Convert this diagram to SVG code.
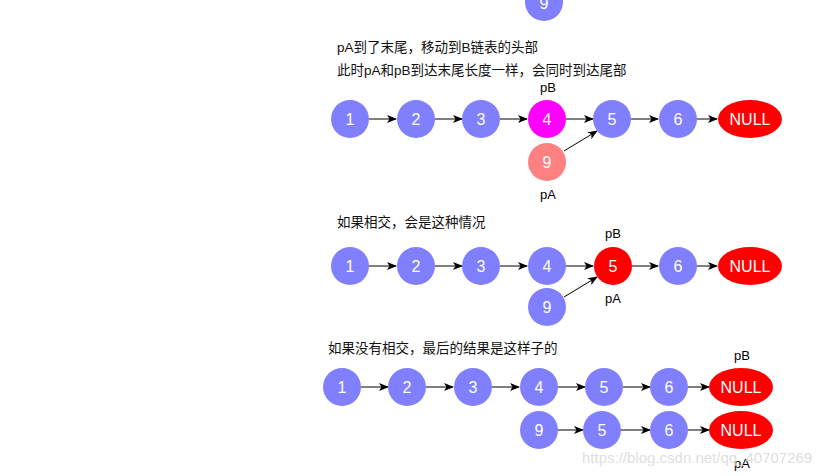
<svg xmlns="http://www.w3.org/2000/svg" width="834" height="476" viewBox="0 0 834 476">
<style>
.n{fill:#8080FF}
.t{font-family:"Liberation Sans",Arial,sans-serif;font-size:16px;fill:#fff;text-anchor:middle;dominant-baseline:central}
.l{font-family:"Liberation Sans",Arial,sans-serif;font-size:13px;fill:#000;text-anchor:middle}
.c{font-family:"Liberation Sans","Noto Sans CJK SC",sans-serif;font-size:13.5px;fill:#111}
.e{stroke:#000;stroke-width:1;fill:none;marker-end:url(#a)}
</style>
<defs>
<marker id="a" markerWidth="10" markerHeight="8" refX="9" refY="4" orient="auto" markerUnits="userSpaceOnUse">
<path d="M0,0 L10,4 L0,8 L2.5,4 Z" fill="#000"/>
</marker>
</defs>
<rect width="834" height="476" fill="#fff"/>
<g id="top9"><circle class="n" cx="544" cy="2" r="19"/><text class="t" x="544" y="3">9</text></g>
<text class="c" x="337" y="52">pA到了末尾，移动到B链表的头部</text>
<text class="c" x="337" y="75">此时pA和pB到达末尾长度一样，会同时到达尾部</text>
<text class="l" x="548" y="92">pB</text>
<text class="l" x="548" y="199">pA</text>
<g id="connectors">
<path class="e" d="M369,119 H396"/>
<path class="e" d="M435,119 H462"/>
<path class="e" d="M500,119 H527"/>
<path class="e" d="M566,119 H593"/>
<path class="e" d="M631,119 H658"/>
<path class="e" d="M697,119 H717"/>
<path class="e" d="M564,151 L597,131"/>
<path class="e" d="M369,266 H396"/>
<path class="e" d="M435,266 H462"/>
<path class="e" d="M500,266 H527"/>
<path class="e" d="M566,266 H593"/>
<path class="e" d="M632,266 H658"/>
<path class="e" d="M697,266 H717"/>
<path class="e" d="M564,297 L597,277"/>
<path class="e" d="M361,387 H388"/>
<path class="e" d="M426,387 H453"/>
<path class="e" d="M492,387 H519"/>
<path class="e" d="M558,387 H585"/>
<path class="e" d="M623,387 H650"/>
<path class="e" d="M688,387 H709"/>
<path class="e" d="M558,430 H583"/>
<path class="e" d="M621,430 H650"/>
<path class="e" d="M688,430 H709"/>
</g>
<g id="s1n1"><circle class="n" cx="350" cy="119" r="19"/><text class="t" x="350" y="119">1</text></g>
<g id="s1n2"><circle class="n" cx="416" cy="119" r="19"/><text class="t" x="416" y="119">2</text></g>
<g id="s1n3"><circle class="n" cx="481" cy="119" r="19"/><text class="t" x="481" y="119">3</text></g>
<g id="s1n4"><circle cx="547" cy="119" r="19" fill="#FF00FF"/><text class="t" x="547" y="119">4</text></g>
<g id="s1n5"><circle class="n" cx="612" cy="119" r="19"/><text class="t" x="612" y="119">5</text></g>
<g id="s1n6"><circle class="n" cx="678" cy="119" r="19"/><text class="t" x="678" y="119">6</text></g>
<g id="s1null"><ellipse cx="750" cy="119" rx="32" ry="19" fill="#FF0000"/><text class="t" x="750" y="119">NULL</text></g>
<g id="s1n9"><circle cx="547" cy="162" r="19" fill="#FF8080"/><text class="t" x="547" y="162">9</text></g>

<text class="c" x="337" y="227">如果相交，会是这种情况</text>
<text class="l" x="613" y="238">pB</text>
<text class="l" x="613" y="303">pA</text>
<g id="s2n1"><circle class="n" cx="350" cy="266" r="19"/><text class="t" x="350" y="266">1</text></g>
<g id="s2n2"><circle class="n" cx="416" cy="266" r="19"/><text class="t" x="416" y="266">2</text></g>
<g id="s2n3"><circle class="n" cx="481" cy="266" r="19"/><text class="t" x="481" y="266">3</text></g>
<g id="s2n4"><circle class="n" cx="547" cy="266" r="19"/><text class="t" x="547" y="266">4</text></g>
<g id="s2n5"><circle cx="613" cy="266" r="19" fill="#FF0000"/><text class="t" x="613" y="266">5</text></g>
<g id="s2n6"><circle class="n" cx="678" cy="266" r="19"/><text class="t" x="678" y="266">6</text></g>
<g id="s2null"><ellipse cx="750" cy="266" rx="32" ry="19" fill="#FF0000"/><text class="t" x="750" y="266">NULL</text></g>
<g id="s2n9"><circle class="n" cx="547" cy="307" r="19"/><text class="t" x="547" y="307">9</text></g>

<text class="c" x="328" y="353">如果没有相交，最后的结果是这样子的</text>
<text class="l" x="742" y="360">pB</text>
<text class="l" x="742" y="468">pA</text>
<g id="s3n1"><circle class="n" cx="342" cy="387" r="19"/><text class="t" x="342" y="387">1</text></g>
<g id="s3n2"><circle class="n" cx="407" cy="387" r="19"/><text class="t" x="407" y="387">2</text></g>
<g id="s3n3"><circle class="n" cx="473" cy="387" r="19"/><text class="t" x="473" y="387">3</text></g>
<g id="s3n4"><circle class="n" cx="539" cy="387" r="19"/><text class="t" x="539" y="387">4</text></g>
<g id="s3n5"><circle class="n" cx="604" cy="387" r="19"/><text class="t" x="604" y="387">5</text></g>
<g id="s3n6"><circle class="n" cx="669" cy="387" r="19"/><text class="t" x="669" y="387">6</text></g>
<g id="s3null"><ellipse cx="741" cy="387" rx="32" ry="19" fill="#FF0000"/><text class="t" x="741" y="387">NULL</text></g>
<g id="s3n9"><circle class="n" cx="539" cy="430" r="19"/><text class="t" x="539" y="430">9</text></g>
<g id="s3n5b"><circle class="n" cx="602" cy="430" r="19"/><text class="t" x="602" y="430">5</text></g>
<g id="s3n6b"><circle class="n" cx="669" cy="430" r="19"/><text class="t" x="669" y="430">6</text></g>
<g id="s3null2"><ellipse cx="741" cy="430" rx="32" ry="19" fill="#FF0000"/><text class="t" x="741" y="430">NULL</text></g>
<text x="582" y="463" font-family="Liberation Sans,Arial,sans-serif" font-size="15" fill="#d8d8d8" fill-opacity="0.85">https://blog.csdn.net/qq_40707269</text>
</svg>
